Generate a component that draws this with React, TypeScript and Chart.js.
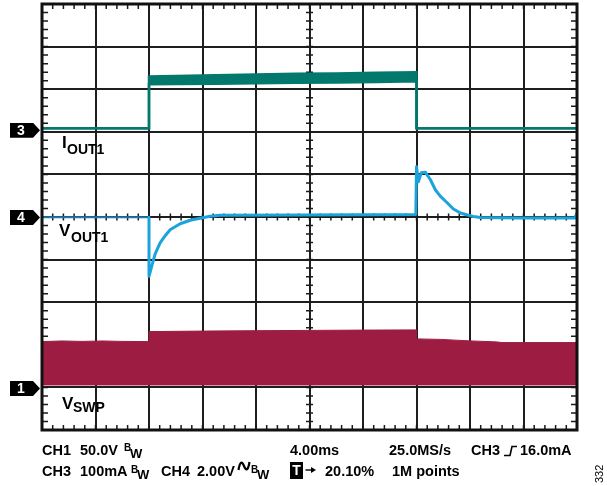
import React, { useEffect, useRef } from 'react';
import { Chart, registerables } from 'chart.js';

Chart.register(...registerables);

// ---- axes: time in ms (4 ms/div, 10 div); vertical in screen divisions (10 div)
const X_MIN = 0;
const X_MAX = 40;
const X_STEP = 4;
const Y_MIN = 0;
const Y_MAX = 10;
const Y_STEP = 1;
const MINOR_PER_DIV = 5;

// ---- CH3  I_OUT1 (noisy band: top / bottom envelope)
const ioutTime = [0, 8, 8, 10, 13, 16, 19, 22, 25, 28, 28, 40];
const ioutTop = [7.086, 7.086, 8.3, 8.31, 8.33, 8.345, 8.36, 8.37, 8.385, 8.4, 7.086, 7.086];
const ioutBottom = [7.086, 7.086, 8.115, 8.12, 8.13, 8.14, 8.15, 8.16, 8.17, 8.185, 7.086, 7.086];

// ---- CH1  V_SWP (switching band: top / bottom envelope)
const vswpTime = [0, 1.5, 3, 4.5, 6, 8, 8, 12, 16, 20, 24, 28, 28, 29.8, 32, 34, 34.4, 37, 40];
const vswpTop = [2.075, 2.09, 2.08, 2.09, 2.08, 2.075, 2.31, 2.322, 2.331, 2.338, 2.345, 2.35, 2.139, 2.127, 2.092, 2.068, 2.052, 2.052, 2.052];
const vswpBottom = [1.058, 1.058, 1.058, 1.058, 1.058, 1.058, 1.058, 1.058, 1.058, 1.058, 1.058, 1.058, 1.058, 1.058, 1.058, 1.058, 1.058, 1.058, 1.058];

// ---- CH4  V_OUT1
const voutPreTime = [0, 8];
const voutPre = [4.994, 4.994];
const voutTime = [8, 8, 8.23, 8.46, 8.83, 9.21, 9.58, 10.33, 11.08, 11.82, 12.57, 13.32, 19.31, 27.95, 28, 28.14, 28.36, 28.66, 29.04, 29.41, 29.79, 30.31, 30.76, 31.28, 31.81, 32.26, 32.78, 35.77, 39.85, 40];
const vout = [4.994, 3.608, 3.878, 4.136, 4.395, 4.56, 4.7, 4.841, 4.924, 4.971, 5.018, 5.041, 5.048, 5.058, 6.181, 5.829, 6.04, 6.052, 5.875, 5.64, 5.483, 5.328, 5.187, 5.093, 5.046, 5.013, 4.99, 4.976, 4.976, 5.1];

const TEAL = '#03786D';
const CRIMSON = '#9C1C42';
const CYAN = '#1BA3DC';
const BLUE_DARK = '#1B7BAD';
const FONT = '"Liberation Sans", Arial, Helvetica, sans-serif';
const FS = 14.5;

const pts = (xs: number[], ys: number[]) => xs.map((x, i) => ({ x, y: ys[i] }));

const scopePlugin = {
  id: 'scopeDecor',
  beforeDatasetsDraw(chart: any) {
    const { ctx, chartArea, scales } = chart;
    const { left, right, top, bottom } = chartArea;
    const xs = scales.x;
    const ys = scales.y;
    const cx = xs.getPixelForValue((X_MIN + X_MAX) / 2);
    const cy = ys.getPixelForValue((Y_MIN + Y_MAX) / 2);
    ctx.save();
    ctx.strokeStyle = '#1a1a1a';
    ctx.lineWidth = 1.5;
    ctx.beginPath();
    const xMinor = X_STEP / MINOR_PER_DIV;
    for (let v = X_MIN; v <= X_MAX + 1e-9; v += xMinor) {
      const px = xs.getPixelForValue(v);
      ctx.moveTo(px, top);
      ctx.lineTo(px, top + 5);
      ctx.moveTo(px, bottom);
      ctx.lineTo(px, bottom - 5);
      ctx.moveTo(px, cy - 3.5);
      ctx.lineTo(px, cy + 3.5);
    }
    const yMinor = Y_STEP / MINOR_PER_DIV;
    for (let v = Y_MIN; v <= Y_MAX + 1e-9; v += yMinor) {
      const py = ys.getPixelForValue(v);
      ctx.moveTo(left, py);
      ctx.lineTo(left + 6, py);
      ctx.moveTo(right, py);
      ctx.lineTo(right - 6, py);
      ctx.moveTo(cx - 3.5, py);
      ctx.lineTo(cx + 3.5, py);
    }
    ctx.stroke();
    ctx.restore();
  },
  afterDatasetsDraw(chart: any) {
    const { ctx, chartArea } = chart;
    ctx.save();
    ctx.strokeStyle = '#111';
    ctx.lineWidth = 3;
    ctx.strokeRect(chartArea.left, chartArea.top, chartArea.right - chartArea.left, chartArea.bottom - chartArea.top);
    ctx.restore();
  },
};

function Txt(props: { x: number; base: number; size: number; weight?: number; children: any; style?: any }) {
  const { x, base, size, weight = 700, children, style } = props;
  return (
    <div
      style={{
        position: 'absolute',
        left: x,
        top: base - 0.8465 * size,
        fontSize: size,
        lineHeight: `${size}px`,
        fontFamily: FONT,
        fontWeight: weight,
        whiteSpace: 'nowrap',
        color: '#000',
        ...style,
      }}
    >
      {children}
    </div>
  );
}

function Marker(props: { cy: number; label: string }) {
  return (
    <div
      style={{
        position: 'absolute',
        left: 10,
        top: props.cy - 7.5,
        width: 30,
        height: 15,
        background: '#000',
        clipPath: 'polygon(0 0, 23px 0, 30px 50%, 23px 100%, 0 100%)',
        color: '#fff',
        fontFamily: FONT,
        fontWeight: 700,
        fontSize: 14,
        lineHeight: '15px',
        textIndent: 7,
      }}
    >
      {props.label}
    </div>
  );
}

function BW(props: { x: number; base: number }) {
  return (
    <>
      <Txt x={props.x} base={props.base - 3.5} size={10}>B</Txt>
      <Txt x={props.x + 6} base={props.base + 3} size={13}>W</Txt>
    </>
  );
}

export default function App() {
  const ref = useRef<HTMLCanvasElement | null>(null);

  useEffect(() => {
    if (!ref.current) return;
    const chart = new Chart(ref.current, {
      type: 'line',
      data: {
        datasets: [
          {
            label: 'VOUT1',
            data: pts(voutTime, vout),
            borderColor: CYAN,
            borderWidth: 3,
            borderJoinStyle: 'round',
            pointRadius: 0,
            fill: false,
          },
          {
            label: 'VOUT1 pre',
            data: pts(voutPreTime, voutPre),
            borderColor: BLUE_DARK,
            borderWidth: 2,
            pointRadius: 0,
            fill: false,
          },
          {
            label: 'IOUT1 top',
            data: pts(ioutTime, ioutTop),
            borderColor: TEAL,
            borderWidth: 2.5,
            pointRadius: 0,
            fill: false,
          },
          {
            label: 'IOUT1 bottom',
            data: pts(ioutTime, ioutBottom),
            borderColor: TEAL,
            backgroundColor: TEAL,
            borderWidth: 2.5,
            pointRadius: 0,
            fill: '-1',
          },
          {
            label: 'VSWP top',
            data: pts(vswpTime, vswpTop),
            borderColor: CRIMSON,
            borderWidth: 1,
            pointRadius: 0,
            fill: false,
          },
          {
            label: 'VSWP bottom',
            data: pts(vswpTime, vswpBottom),
            borderColor: CRIMSON,
            backgroundColor: CRIMSON,
            borderWidth: 1,
            pointRadius: 0,
            fill: '-1',
          },
        ],
      },
      options: {
        responsive: false,
        animation: false,
        events: [],
        layout: { padding: { left: 42, right: 30, top: 4, bottom: 56 } },
        plugins: {
          legend: { display: false },
          tooltip: { enabled: false },
        },
        elements: { line: { tension: 0 } },
        scales: {
          x: {
            type: 'linear',
            min: X_MIN,
            max: X_MAX,
            ticks: { display: false, stepSize: X_STEP },
            grid: { color: '#1e1e1e', lineWidth: 2, drawTicks: false },
            border: { display: false },
          },
          y: {
            type: 'linear',
            min: Y_MIN,
            max: Y_MAX,
            ticks: { display: false, stepSize: Y_STEP },
            grid: { color: '#1e1e1e', lineWidth: 2, drawTicks: false },
            border: { display: false },
          },
        },
      },
      plugins: [scopePlugin],
    });
    return () => chart.destroy();
  }, []);

  return (
    <div style={{ position: 'fixed', left: 0, top: 0, width: 607, height: 486, background: '#fff', overflow: 'hidden' }}>
      <canvas ref={ref} width={607} height={486} style={{ position: 'absolute', left: 0, top: 0, width: 607, height: 486 }} />

      <Marker cy={130.3} label="3" />
      <Marker cy={217.5} label="4" />
      <Marker cy={388.5} label="1" />

      <Txt x={62} base={148.5} size={17}>I</Txt>
      <Txt x={67} base={153.5} size={14}>OUT1</Txt>

      <Txt x={59} base={236} size={17}>V</Txt>
      <Txt x={71} base={242} size={14}>OUT1</Txt>

      <Txt x={62} base={409.3} size={17}>V</Txt>
      <Txt x={73} base={412} size={14}>SWP</Txt>

      {/* row 1 */}
      <Txt x={42} base={455} size={FS}>CH1</Txt>
      <Txt x={80} base={455} size={FS}>50.0V</Txt>
      <BW x={124} base={455} />
      <Txt x={290} base={455} size={FS}>4.00ms</Txt>
      <Txt x={389} base={455} size={FS}>25.0MS/s</Txt>
      <Txt x={471} base={455} size={FS}>CH3</Txt>
      <svg style={{ position: 'absolute', left: 503, top: 445 }} width={15} height={12}>
        <path d="M1 10.5 H7 L9 1.5 H14" stroke="#000" strokeWidth={1.6} fill="none" />
      </svg>
      <Txt x={520} base={455} size={FS}>16.0mA</Txt>

      {/* row 2 */}
      <Txt x={42} base={476.5} size={FS}>CH3</Txt>
      <Txt x={80} base={476.5} size={FS}>100mA</Txt>
      <BW x={131} base={476.5} />
      <Txt x={161} base={476.5} size={FS}>CH4</Txt>
      <Txt x={197} base={476.5} size={FS}>2.00V</Txt>
      <svg style={{ position: 'absolute', left: 237, top: 460 }} width={14} height={12}>
        <path d="M1.5 10 C3 1, 5 1, 7 6 S11 11, 12.5 2" stroke="#000" strokeWidth={2.2} fill="none" />
      </svg>
      <BW x={251} base={476.5} />
      <div
        style={{
          position: 'absolute',
          left: 290,
          top: 462,
          width: 13,
          height: 17,
          background: '#000',
          color: '#fff',
          fontFamily: FONT,
          fontWeight: 700,
          fontSize: 14,
          lineHeight: '17px',
          textAlign: 'center',
        }}
      >
        T
      </div>
      <svg style={{ position: 'absolute', left: 305, top: 466 }} width={12} height={8}>
        <path d="M0.5 4 H7" stroke="#000" strokeWidth={1.4} fill="none" />
        <path d="M6 1 L11 4 L6 7 Z" fill="#000" />
      </svg>
      <Txt x={325} base={476.5} size={FS}>20.10%</Txt>
      <Txt x={392} base={476.5} size={FS}>1M points</Txt>

      <div
        style={{
          position: 'absolute',
          left: 594,
          top: 483,
          fontFamily: FONT,
          fontSize: 11,
          lineHeight: '11px',
          transform: 'rotate(-90deg)',
          transformOrigin: 'left top',
          whiteSpace: 'nowrap',
          color: '#000',
        }}
      >
        332
      </div>
    </div>
  );
}
